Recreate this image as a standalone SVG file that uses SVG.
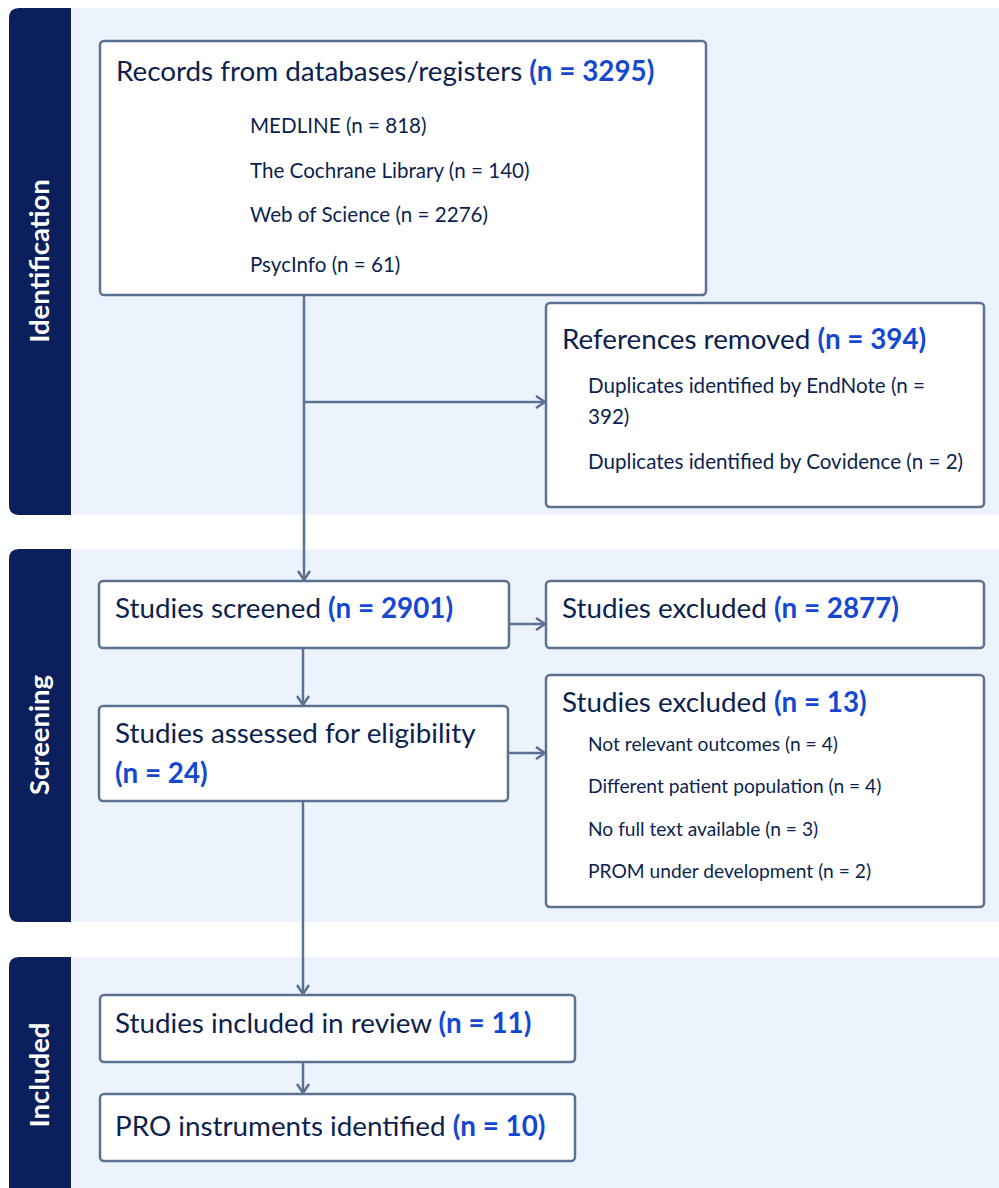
<svg xmlns="http://www.w3.org/2000/svg" width="999" height="1188" viewBox="0 0 999 1188">
<defs>
<style>
.bg{fill:#ecf3fd}
.band{fill:#0b1f5c}
.box{fill:#ffffff;stroke:#5b7192;stroke-width:2.5}
.t{font-family:Lato,"Liberation Sans",sans-serif;fill:#0d1f4f}
.h{font-size:27.8px}
.s{font-size:20.6px}
.s2{font-size:19.2px}
.n{fill:#1448d0;font-weight:bold}
.lab{font-family:Lato,"Liberation Sans",sans-serif;font-size:27.5px;font-weight:bold;fill:#ffffff}
.c{fill:none;stroke:#5b7192;stroke-width:2.5}
</style>
<marker id="ah" markerWidth="14" markerHeight="14" refX="11" refY="7" orient="auto" markerUnits="userSpaceOnUse">
<path d="M2,1 L11,7 L2,13" fill="none" stroke="#5b7192" stroke-width="2.5"/>
</marker>
</defs>
<rect width="999" height="1188" fill="#ffffff"/>
<g id="sec-identification">
<rect class="bg" x="60" y="8" width="939" height="507"/>
<path class="band" d="M19,8 H71 V515 H19 Q9,515 9,505 V18 Q9,8 19,8 Z"/>
<text class="lab" transform="translate(49,261) rotate(-90)" text-anchor="middle">Identification</text>
</g>
<g id="sec-screening">
<rect class="bg" x="60" y="549" width="939" height="373"/>
<path class="band" d="M19,549 H71 V922 H19 Q9,922 9,912 V559 Q9,549 19,549 Z"/>
<text class="lab" transform="translate(49,735) rotate(-90)" text-anchor="middle">Screening</text>
</g>
<g id="sec-included">
<rect class="bg" x="60" y="957" width="939" height="231"/>
<path class="band" d="M19,957 H71 V1188 H9 V967 Q9,957 19,957 Z"/>
<text class="lab" transform="translate(49,1075) rotate(-90)" text-anchor="middle">Included</text>
</g>
<g id="connectors">
<line class="c" x1="304" y1="295" x2="304" y2="580" marker-end="url(#ah)"/>
<line class="c" x1="304" y1="402" x2="545" y2="402" marker-end="url(#ah)"/>
<line class="c" x1="509" y1="624" x2="545" y2="624" marker-end="url(#ah)"/>
<line class="c" x1="303" y1="648" x2="303" y2="705" marker-end="url(#ah)"/>
<line class="c" x1="508" y1="753" x2="545" y2="753" marker-end="url(#ah)"/>
<line class="c" x1="303" y1="801" x2="303" y2="994" marker-end="url(#ah)"/>
<line class="c" x1="303" y1="1062" x2="303" y2="1093" marker-end="url(#ah)"/>
</g>
<g id="records">
<rect class="box" x="100" y="41" width="606" height="254" rx="4"/>
<text class="t h" x="116" y="81">Records from databases/registers <tspan class="n">(n = 3295)</tspan></text>
<text class="t s" x="250" y="133">MEDLINE (n = 818)</text>
<text class="t s" x="250" y="178">The Cochrane Library (n = 140)</text>
<text class="t s" x="250" y="222">Web of Science (n = 2276)</text>
<text class="t s" x="250" y="272">PsycInfo (n = 61)</text>
</g>
<g id="removed">
<rect class="box" x="546" y="303" width="438" height="204" rx="4"/>
<text class="t h" x="562" y="349">References removed <tspan class="n">(n = 394)</tspan></text>
<text class="t s" x="588" y="393">Duplicates identified by EndNote (n =</text>
<text class="t s" x="588" y="424">392)</text>
<text class="t s" x="588" y="469">Duplicates identified by Covidence (n = 2)</text>
</g>
<g id="screened">
<rect class="box" x="99" y="581" width="410" height="67" rx="4"/>
<text class="t h" x="115" y="618">Studies screened <tspan class="n">(n = 2901)</tspan></text>
</g>
<g id="excluded1">
<rect class="box" x="546" y="581" width="438" height="67" rx="4"/>
<text class="t h" x="562" y="618">Studies excluded <tspan class="n">(n = 2877)</tspan></text>
</g>
<g id="assessed">
<rect class="box" x="99" y="706" width="409" height="95" rx="4"/>
<text class="t h" x="115" y="743">Studies assessed for eligibility</text>
<text class="t h n" x="115" y="783">(n = 24)</text>
</g>
<g id="excluded2">
<rect class="box" x="546" y="675" width="438" height="232" rx="4"/>
<text class="t h" x="562" y="712">Studies excluded <tspan class="n">(n = 13)</tspan></text>
<text class="t s2" x="588" y="751">Not relevant outcomes (n = 4)</text>
<text class="t s2" x="588" y="793">Different patient population (n = 4)</text>
<text class="t s2" x="588" y="836">No full text available (n = 3)</text>
<text class="t s2" x="588" y="878">PROM under development (n = 2)</text>
</g>
<g id="included">
<rect class="box" x="100" y="995" width="475" height="67" rx="4"/>
<text class="t h" x="115" y="1033">Studies included in review <tspan class="n">(n = 11)</tspan></text>
</g>
<g id="instruments">
<rect class="box" x="100" y="1094" width="475" height="67" rx="4"/>
<text class="t h" x="115" y="1136">PRO instruments identified <tspan class="n">(n = 10)</tspan></text>
</g>
</svg>
